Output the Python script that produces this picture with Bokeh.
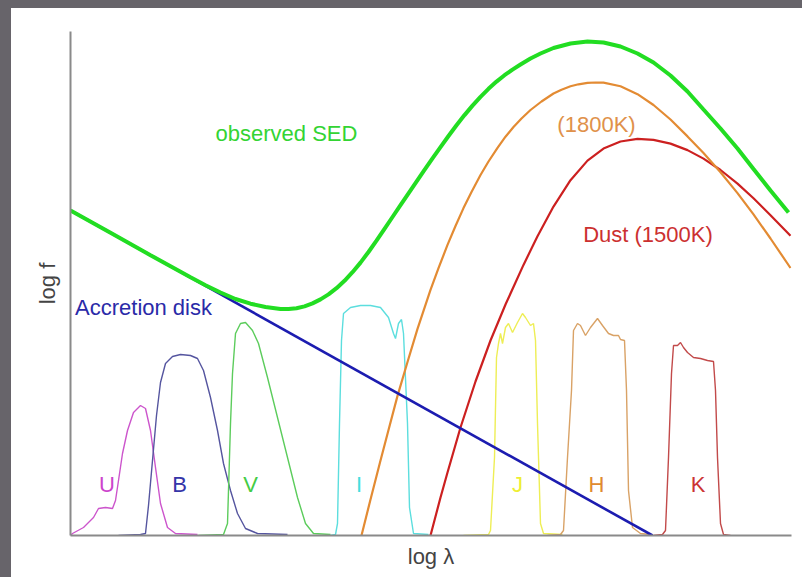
from bokeh.plotting import figure
from bokeh.models import Range1d, Label, FixedTicker
from bokeh.embed import file_html
from bokeh.resources import INLINE

# Arbitrary log-lambda / log-flux units
# Observed spectral energy distribution (sum of disk + dust)
sed_x = [0, 40, 80, 120, 135, 150, 165, 180, 195, 210, 218, 226, 234, 242, 250, 258, 266, 274,
         282, 290, 298, 306, 314, 322, 330, 338, 346, 354, 362, 370, 378, 386, 394, 402, 410,
         418, 426, 434, 442, 450, 460, 470, 483, 500, 517, 533, 550, 567, 583, 600, 617, 633,
         650, 667, 683, 700, 718]
sed_y = [325, 302.7, 280.3, 258.2, 250.3, 243, 236.5, 231.8, 228.5, 226.5, 226.5, 227.3, 229.1,
         232.1, 236.1, 241.1, 247.3, 254.7, 263.3, 272.9, 283.5, 294.9, 306.7, 318.5, 330.3,
         342.1, 353.9, 365.6, 377.1, 388.4, 399.5, 410.2, 420.4, 429.9, 438.7, 446.7, 453.9,
         460.3, 465.9, 471, 477, 482, 487.5, 492, 494, 493, 489, 482, 473, 460, 444, 426,
         407, 387, 366.5, 345, 323]

# Accretion disk power law
disk_x = [0, 582]
disk_y = [325, 0]

# Hot dust blackbody (1800 K)
hot_x = [291, 300, 310, 318, 327, 337, 347, 353, 360, 368, 377, 385, 393, 401, 410, 418, 427,
         435, 443, 451, 460, 471, 483, 491, 500, 508, 517, 525, 533, 550, 567, 583, 600, 617,
         633, 650, 667, 683, 700, 720]
hot_y = [0, 36, 75, 105.5, 139.6, 173.5, 206.6, 224.6, 245.6, 267.3, 290.6, 309.5, 327.4,
         343.5, 360.5, 374, 387.7, 398.8, 408.5, 417, 425.5, 434, 442, 445.8, 449.2, 451.2,
         452.6, 453, 452.9, 449.2, 441.3, 430.5, 416, 399.1, 382.5, 363.3, 342.4, 321.1,
         297, 267.5]

# Dust blackbody (1500 K)
dust_x = [360, 370, 377, 390, 405, 420, 435, 453, 467, 483, 500, 517, 533, 550, 567, 583,
          600, 617, 633, 650, 667, 683, 700, 720]
dust_y = [0, 38, 63, 108, 154, 195, 231, 270.6, 299.3, 328.9, 355.3, 374.9, 386.9, 394,
          396.6, 395.6, 391.9, 385.4, 376.9, 365.5, 351.9, 337.2, 320.2, 299.8]

# Photometric filter transmission curves
u_x = [0, 2, 13, 23, 28, 35, 42, 45, 48, 52, 57, 63, 70, 75, 80, 85, 90, 97, 105, 127]
u_y = [0, 2, 8, 18, 27, 28, 27, 35, 55, 82, 105, 123, 130, 127, 105, 68, 32, 8, 2, 1]

b_x = [48, 70, 75, 78, 82, 86, 90, 95, 102, 110, 120, 127, 133, 140, 147, 153, 160, 167,
       175, 187, 217]
b_y = [0, 1, 2, 30, 75, 120, 153, 172, 179, 181, 180, 177, 165, 138, 105, 72, 45, 22,
       7, 2, 1]

v_x = [128, 153, 157, 158, 160, 162, 165, 170, 175, 182, 188, 197, 207, 217, 227, 235, 243, 260]
v_y = [0, 1, 12, 45, 112, 162, 202, 212, 213, 205, 192, 158, 118, 78, 38, 12, 2, 1]

i_x = [260, 265, 267, 269, 271, 273, 280, 290, 300, 310, 318, 323, 325, 328, 331, 333, 337,
       339, 343, 358]
i_y = [0, 1, 12, 112, 195, 222, 228, 230, 230, 228, 218, 202, 197, 212, 216, 202, 112,
       28, 2, 1]

j_x = [393, 418, 420, 424, 426, 428, 430, 432, 435, 438, 442, 447, 452, 455, 460, 463, 465,
       467, 470, 473, 492]
j_y = [0, 1, 5, 78, 178, 192, 202, 192, 208, 212, 203, 213, 222, 218, 210, 212, 195, 112,
       12, 2, 1]

h_x = [477, 490, 493, 497, 501, 503, 507, 510, 515, 520, 527, 532, 538, 543, 548, 550, 554,
       556, 558, 562, 570, 580]
h_y = [0, 1, 5, 78, 145, 205, 212, 210, 200, 208, 217, 210, 202, 200, 200, 196, 195, 145,
       45, 8, 2, 1]

k_x = [583, 592, 595, 598, 601, 603, 607, 610, 613, 617, 623, 630, 637, 643, 645, 647, 650,
       653, 660]
k_y = [0, 1, 5, 78, 162, 190, 190, 193, 188, 183, 178, 177, 175, 174, 145, 78, 12, 1, 0]

filter_names = ["U", "B", "V", "I", "J", "H", "K"]
filter_curves = [(u_x, u_y), (b_x, b_y), (v_x, v_y), (i_x, i_y), (j_x, j_y), (h_x, h_y), (k_x, k_y)]
filter_line_colors = ["#cc55cc", "#55559f", "#5ccc5c", "#5cdede", "#eeee55", "#d9a266", "#c24a4a"]
filter_text_colors = ["#cc44cc", "#3535a8", "#44cc44", "#44dddd", "#eeee33", "#e08a30", "#cc3333"]
filter_label_x = [36.5, 109, 180, 288.5, 447, 526, 627.5]
filter_label_y = 51.5

FONT = "Liberation Sans"
FS = "22px"

p = figure(width=802, height=577, output_backend="svg", toolbar_location=None,
           x_range=Range1d(0, 721), y_range=Range1d(0, 504),
           min_border_left=70, min_border_right=11, min_border_top=31, min_border_bottom=42)
p.background_fill_color = "white"
p.border_fill_color = "white"
p.outline_line_color = None
p.grid.visible = False
for ax in (p.xaxis, p.yaxis):
    ax.ticker = FixedTicker(ticks=[])
    ax.axis_line_color = "#8a8a8a"
    ax.axis_line_width = 2
    ax.major_tick_line_color = None
    ax.minor_tick_line_color = None
    ax.major_tick_in = 0
    ax.major_tick_out = 0
    ax.minor_tick_in = 0
    ax.minor_tick_out = 0
    ax.major_label_standoff = 0
    ax.axis_label_text_font = FONT
    ax.axis_label_text_font_size = FS
    ax.axis_label_text_font_style = "normal"
    ax.axis_label_text_color = "#444444"
p.xaxis.axis_label = "log \u03bb"
p.yaxis.axis_label = "log f"
p.xaxis.axis_label_standoff = 8
p.yaxis.axis_label_standoff = 11

# filter bandpasses
for (fx, fy), c in zip(filter_curves, filter_line_colors):
    p.line(fx, fy, line_color=c, line_width=1.4)

# model components and total SED
p.line(dust_x, dust_y, line_color="#cc2020", line_width=2.2)
p.line(hot_x, hot_y, line_color="#e38b33", line_width=2.2)
p.line(disk_x, disk_y, line_color="#1c1cb0", line_width=2.6)
p.line(sed_x, sed_y, line_color="#22dd22", line_width=4)


def add_label(x, y, text, color):
    p.add_layout(Label(x=x, y=y, text=text, text_color=color, text_font=FONT,
                       text_font_size=FS, text_align="center", text_baseline="middle"))


add_label(216, 402, "observed SED", "#33d433")
add_label(526, 411, "(1800K)", "#e0914a")
add_label(577.5, 301.5, "Dust (1500K)", "#cc3030")
add_label(73, 228, "Accretion disk", "#2a2aa8")
for name, lx, tc in zip(filter_names, filter_label_x, filter_text_colors):
    add_label(lx, filter_label_y, name, tc)

# dark frame strips along the top and left page edges
page_css = ("<style>html, body { margin: 0; padding: 0; background: #ffffff; }"
            " body::before { content: ''; position: absolute; left: 0; top: 0; width: 802px;"
            " height: 8px; background: #67646a; z-index: 1000; }"
            " body::after { content: ''; position: absolute; left: 0; top: 0; width: 11px;"
            " height: 577px; background: #67646a; z-index: 1000; }</style></head>")
html = file_html(p, INLINE)
html = html.replace("</head>", page_css, 1)
open("out.html", "w").write(html)
